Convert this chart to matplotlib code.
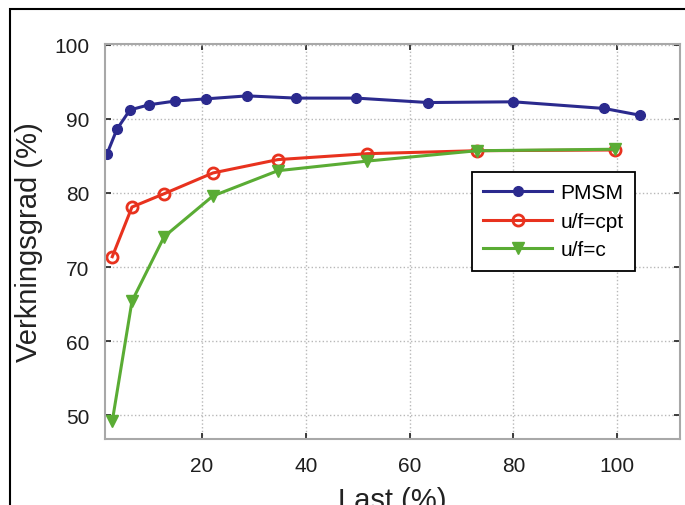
import matplotlib.pyplot as plt
from matplotlib.patches import Rectangle

plt.rcParams['font.family'] = ['Liberation Sans', 'DejaVu Sans']

# PMSM
pmsm_last = [1.7, 3.6, 6.1, 9.8, 14.8, 20.8, 28.7, 38.1, 49.7, 63.6, 80.0, 97.5, 104.3]
pmsm_eff = [85.3, 88.6, 91.2, 91.9, 92.4, 92.7, 93.1, 92.8, 92.8, 92.2, 92.3, 91.4, 90.5]

# asynkronmotor, u/f optimerad och u/f konstant
asm_last = [2.7, 6.5, 12.7, 22.1, 34.6, 51.8, 73.0, 99.6]
opt_eff = [71.4, 78.1, 79.9, 82.7, 84.5, 85.3, 85.7, 85.8]
c_eff = [49.2, 65.4, 74.1, 79.6, 83.0, 84.3, 85.7, 85.9]

labels = ['PMSM', 'u/f=cpt', 'u/f=c']

fig = plt.figure(figsize=(6.85, 5.06), dpi=100)
ax = fig.add_axes([105/685, 1-440/506, 575/685, 395/506])

ax.plot(pmsm_last, pmsm_eff, '-o', color='#2b2a8e', lw=2.2, ms=7, label=labels[0])
ax.plot(asm_last, opt_eff, '-o', color='#e8321e', lw=2.2, ms=8, mfc='none', mew=2, label=labels[1])
ax.plot(asm_last, c_eff, '-v', color='#5aac34', lw=2.2, ms=9, label=labels[2])

ax.set_xlim(1.3, 112.1)
ax.set_ylim(46.8, 100.1)
ax.set_xticks([20, 40, 60, 80, 100])
ax.set_yticks([50, 60, 70, 80, 90, 100])
ax.grid(True, ls=':', color='#b8b8b8', lw=1)
ax.tick_params(direction='in', top=True, right=True, labelsize=15, colors='#1e1e1e',
               length=4, width=1.2)
ax.tick_params(axis='y', pad=11)
ax.tick_params(axis='x', pad=12)
for s in ax.spines.values():
    s.set_color('#a8a8a8')
    s.set_linewidth(1.5)

ax.set_ylabel('Verkningsgrad (%)', fontsize=21, color='#222222', labelpad=8)
ax.set_xlabel('Last (%)', fontsize=21, color='#222222', labelpad=8)

leg = ax.legend(loc='upper right', bbox_to_anchor=(0.9217, 0.676), fontsize=15,
                handlelength=3.3, handletextpad=0.4, labelspacing=0.45,
                borderpad=0.55, borderaxespad=0, fancybox=False, framealpha=1,
                edgecolor='black')
leg.get_frame().set_linewidth(1.3)

# ram runt figuren (avskuren höger och nederkant)
fig.patches.append(Rectangle((10/685, -0.1), 1.2, 1.1 - 10/506, transform=fig.transFigure,
                             fill=False, edgecolor='black', lw=1.5, clip_on=False))

fig.savefig('out.png', dpi=100)
